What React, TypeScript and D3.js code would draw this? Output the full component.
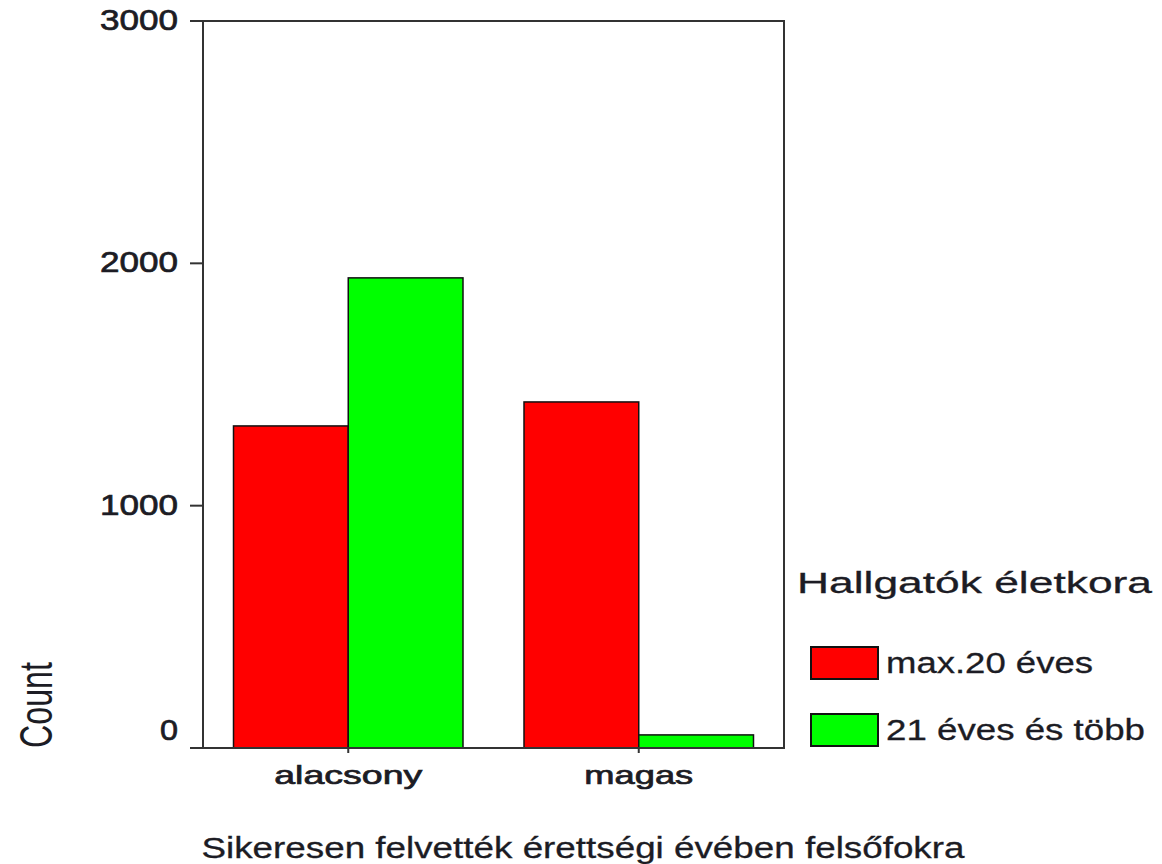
import * as d3 from "d3";

const categories = ["alacsony", "magas"];
const seriesNames = ["max.20 éves", "21 éves és több"];
const seriesColors = ["#ff0000", "#00ff00"];
const max20Values = [1329, 1428];
const over21Values = [1940, 54];
const yTicks = [0, 1000, 2000, 3000];

const width = 1162;
const height = 864;
const plotLeft = 203;
const plotRight = 784;
const plotTop = 21;
const plotBottom = 748;
const font = "'Liberation Sans', Arial, sans-serif";
const textColor = "#1c1c24";
const axisColor = "#333";

// measured label widths in the picture (text is horizontally stretched there)
const catLabelWidth: Record<string, number> = { alacsony: 148, magas: 109 };
const legendLabelWidth = [207, 259];

const App = () => {
    const series = [max20Values, over21Values];

    const x0 = d3
        .scaleBand<string>()
        .domain(categories)
        .range([plotLeft, plotRight])
        .paddingInner(0.21)
        .paddingOuter(0.105);

    const x1 = d3
        .scaleBand<number>()
        .domain(d3.range(seriesNames.length))
        .range([0, x0.bandwidth()]);

    const y = d3.scaleLinear().domain([0, 3000]).range([plotBottom, plotTop]);

    return (
        <svg
            width={width}
            height={height}
            style={{ position: "absolute", left: 0, top: 0, background: "#fff" }}
        >
            {/* bars */}
            {categories.map((cat, ci) => (
                <g key={cat} transform={`translate(${x0(cat)},0)`}>
                    {series.map((vals, si) => (
                        <rect
                            key={si}
                            x={x1(si)}
                            y={y(vals[ci])}
                            width={x1.bandwidth()}
                            height={y(0) - y(vals[ci])}
                            fill={seriesColors[si]}
                            stroke="#111"
                            strokeWidth={1.5}
                        />
                    ))}
                </g>
            ))}

            {/* frame */}
            <rect
                x={plotLeft}
                y={plotTop}
                width={plotRight - plotLeft}
                height={plotBottom - plotTop}
                fill="none"
                stroke={axisColor}
                strokeWidth={2}
            />

            {/* y axis ticks + labels */}
            {yTicks.map((t) => (
                <g key={t}>
                    <line
                        x1={plotLeft - 13}
                        x2={plotLeft}
                        y1={y(t)}
                        y2={y(t)}
                        stroke={axisColor}
                        strokeWidth={2}
                    />
                    <text
                        x={178}
                        y={y(t) + 9 + (t === 0 ? -17 : 0)}
                        textAnchor="end"
                        fontFamily={font}
                        fontSize={29}
                        fill={textColor}
                        stroke={textColor}
                        strokeWidth={0.7}
                        textLength={t === 0 ? 18 : 78}
                        lengthAdjust="spacingAndGlyphs"
                    >
                        {t}
                    </text>
                </g>
            ))}

            {/* x axis ticks + labels */}
            {categories.map((cat) => {
                const cx = (x0(cat) ?? 0) + x0.bandwidth() / 2;
                return (
                    <g key={cat}>
                        <line
                            x1={cx}
                            x2={cx}
                            y1={plotBottom}
                            y2={plotBottom + 5}
                            stroke={axisColor}
                            strokeWidth={2}
                        />
                        <text
                            x={cx}
                            y={784}
                            textAnchor="middle"
                            fontFamily={font}
                            fontSize={26}
                            fill={textColor}
                            stroke={textColor}
                            strokeWidth={0.7}
                            textLength={catLabelWidth[cat]}
                            lengthAdjust="spacingAndGlyphs"
                        >
                            {cat}
                        </text>
                    </g>
                );
            })}

            {/* axis titles */}
            <text
                transform={`translate(52,${(662 + 748) / 2}) rotate(-90)`}
                textAnchor="middle"
                fontFamily={font}
                fontSize={46}
                fill={textColor}
                textLength={86}
                lengthAdjust="spacingAndGlyphs"
            >
                Count
            </text>
            <text
                x={583}
                y={858}
                textAnchor="middle"
                fontFamily={font}
                fontSize={29}
                fill={textColor}
                stroke={textColor}
                strokeWidth={0.3}
                textLength={763}
                lengthAdjust="spacingAndGlyphs"
            >
                Sikeresen felvették érettségi évében felsőfokra
            </text>

            {/* legend */}
            <text
                x={797}
                y={593}
                fontFamily={font}
                fontSize={29}
                fill={textColor}
                stroke={textColor}
                strokeWidth={0.3}
                textLength={355}
                lengthAdjust="spacingAndGlyphs"
            >
                Hallgatók életkora
            </text>
            {seriesNames.map((name, i) => (
                <g key={name} transform={`translate(811,${647 + i * 67})`}>
                    <rect
                        width={67}
                        height={32}
                        fill={seriesColors[i]}
                        stroke="#111"
                        strokeWidth={2}
                    />
                    <text
                        x={75}
                        y={26}
                        fontFamily={font}
                        fontSize={29}
                        fill={textColor}
                        stroke={textColor}
                        strokeWidth={0.3}
                        textLength={legendLabelWidth[i]}
                        lengthAdjust="spacingAndGlyphs"
                    >
                        {name}
                    </text>
                </g>
            ))}
        </svg>
    );
};

export default App;
